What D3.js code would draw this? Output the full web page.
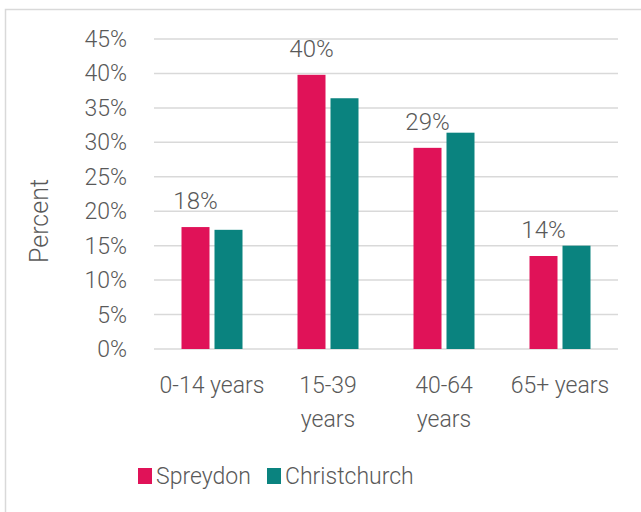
<!DOCTYPE html>
<html lang="en">
<head>
<meta charset="utf-8">
<title>Age groups: Spreydon vs Christchurch</title>
<script src="https://cdn.jsdelivr.net/npm/d3@7"></script>
<style>
    body { margin: 0; background: #fff; }
    text { font-family: Roboto, "Liberation Sans Narrow", sans-serif; font-weight: 300; fill: #595959; }
</style>
</head>
<body>
<script>
// data
var categories = ["0-14 years", "15-39 years", "40-64 years", "65+ years"];
var categoryLines = [["0-14 years"], ["15-39", "years"], ["40-64", "years"], ["65+ years"]];
var seriesNames = ["Spreydon", "Christchurch"];
var spreydon = [17.7, 39.8, 29.2, 13.5];
var christchurch = [17.3, 36.4, 31.4, 15.0];
var spreydonLabels = ["18%", "40%", "29%", "14%"];
var yTicks = [0, 5, 10, 15, 20, 25, 30, 35, 40, 45];

var colors = ["#e01258", "#0a837f"];
var w = 641, h = 512;

var svg = d3.select("body").append("svg")
    .attr("width", w)
    .attr("height", h);

// chart frame
svg.append("rect")
    .attr("x", 5.5).attr("y", 9.5)
    .attr("width", w + 10).attr("height", h + 10)
    .attr("fill", "none")
    .attr("stroke", "#d9d9d9")
    .attr("stroke-width", 1.5);

var plotLeft = 154, plotRight = 618, plotTop = 39, plotBottom = 349;

var x = d3.scaleBand().domain(categories).range([plotLeft, plotRight]);
var y = d3.scaleLinear().domain([0, 45]).range([plotBottom, plotTop]);

var barW = 28, barGap = 5;

// gridlines
svg.append("g").selectAll("line")
    .data(yTicks)
    .enter().append("line")
    .attr("x1", plotLeft).attr("x2", plotRight)
    .attr("y1", function(d) { return y(d); })
    .attr("y2", function(d) { return y(d); })
    .attr("stroke", "#d9d9d9")
    .attr("stroke-width", 1.5);

// y tick labels
svg.append("g").selectAll("text")
    .data(yTicks)
    .enter().append("text")
    .attr("x", 127)
    .attr("y", function(d) { return y(d); })
    .attr("dy", "0.35em")
    .attr("text-anchor", "end")
    .attr("font-size", 23)
    .text(function(d) { return d + "%"; });

svg.append("text")
    .attr("transform", "translate(48,221) rotate(-90)")
    .attr("text-anchor", "middle")
    .attr("font-size", 25)
    .text("Percent");

var series = [spreydon, christchurch];
series.forEach(function(vals, s) {
    svg.append("g").selectAll("rect")
        .data(vals)
        .enter().append("rect")
        .attr("x", function(d, i) {
            var c = x(categories[i]) + x.bandwidth() / 2;
            return s == 0 ? c - barGap / 2 - barW : c + barGap / 2;
        })
        .attr("y", function(d) { return y(d); })
        .attr("width", barW)
        .attr("height", function(d) { return plotBottom - y(d); })
        .attr("fill", colors[s]);
});

// value labels over Spreydon bars
svg.append("g").selectAll("text")
    .data(spreydon)
    .enter().append("text")
    .attr("x", function(d, i) {
        return x(categories[i]) + x.bandwidth() / 2 - barGap / 2 - barW / 2;
    })
    .attr("y", function(d) { return y(d) - 18; })
    .attr("text-anchor", "middle")
    .attr("font-size", 24)
    .text(function(d, i) { return spreydonLabels[i]; });

// category labels
var xl = svg.append("g").selectAll("text")
    .data(categoryLines)
    .enter().append("text")
    .attr("x", function(d, i) { return x(categories[i]) + x.bandwidth() / 2; })
    .attr("y", 393)
    .attr("text-anchor", "middle")
    .attr("font-size", 23);
xl.selectAll("tspan")
    .data(function(d) { return d; })
    .enter().append("tspan")
    .attr("x", function() { return d3.select(this.parentNode).attr("x"); })
    .attr("dy", function(d, i) { return i == 0 ? 0 : 34; })
    .text(function(d) { return d; });

// legend
var legendX = [138, 267];
seriesNames.forEach(function(name, s) {
    svg.append("rect")
        .attr("x", legendX[s]).attr("y", 468)
        .attr("width", 14).attr("height", 16)
        .attr("fill", colors[s]);
    svg.append("text")
        .attr("x", legendX[s] + 18).attr("y", 484)
        .attr("font-size", 23)
        .text(name);
});
</script>
</body>
</html>
